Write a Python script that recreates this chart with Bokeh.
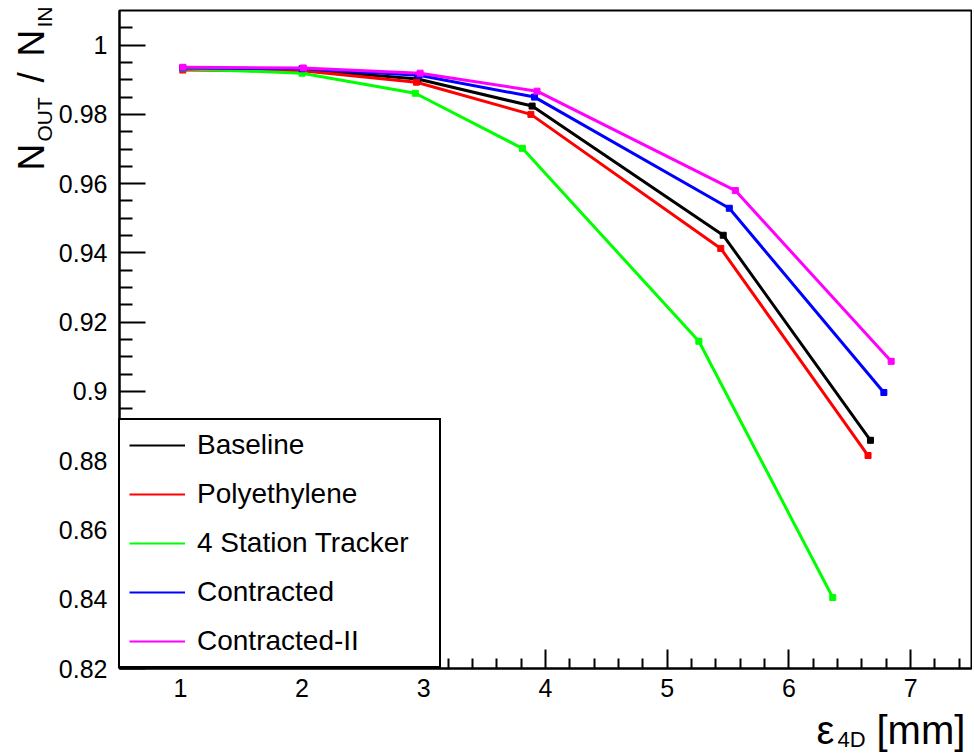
from bokeh.plotting import figure
from bokeh.models import (FixedTicker, CustomJSTickFormatter, Legend, LegendItem,
                          LinearAxis, Range1d, Label, BoxAnnotation)
from bokeh.embed import file_html
from bokeh.resources import INLINE
import math

# ---------------- data ----------------
series_names = ["Baseline", "Polyethylene", "4 Station Tracker", "Contracted", "Contracted-II"]
series_colors = ["#000000", "#ff0000", "#00ff00", "#0000ff", "#ff00ff"]

baseline_x = [1.02, 2.00, 2.95, 3.89, 5.46, 6.67]
baseline_y = [0.9932, 0.9930, 0.9902, 0.9824, 0.9451, 0.8859]
baseline_e = [0.0003, 0.0003, 0.0004, 0.0005, 0.0007, 0.0009]

poly_x = [1.02, 2.00, 2.94, 3.88, 5.44, 6.65]
poly_y = [0.9928, 0.9926, 0.9893, 0.9800, 0.9413, 0.8815]
poly_e = [0.0003, 0.0003, 0.0004, 0.0005, 0.0007, 0.0009]

station_x = [1.02, 2.00, 2.93, 3.81, 5.26, 6.36]
station_y = [0.9932, 0.9919, 0.9861, 0.9702, 0.9145, 0.8405]
station_e = [0.0003, 0.0003, 0.0004, 0.0005, 0.0008, 0.0010]

contr_x = [1.02, 2.00, 2.96, 3.91, 5.51, 6.78]
contr_y = [0.9934, 0.9932, 0.9913, 0.9850, 0.9529, 0.8997]
contr_e = [0.0003, 0.0003, 0.0004, 0.0005, 0.0007, 0.0009]

contr2_x = [1.02, 2.01, 2.97, 3.93, 5.56, 6.84]
contr2_y = [0.9936, 0.9934, 0.9919, 0.9867, 0.9580, 0.9087]
contr2_e = [0.0003, 0.0003, 0.0004, 0.0005, 0.0007, 0.0009]

x_axis_min, x_axis_max = 0.5, 7.5
y_axis_min, y_axis_max = 0.82, 1.01
x_major_ticks = [1, 2, 3, 4, 5, 6, 7]
x_minor_ticks = [0.6, 0.8, 1.2, 1.4, 1.6, 1.8, 2.2, 2.4, 2.6, 2.8, 3.2, 3.4, 3.6, 3.8,
                 4.2, 4.4, 4.6, 4.8, 5.2, 5.4, 5.6, 5.8, 6.2, 6.4, 6.6, 6.8, 7.2, 7.4]
y_major_ticks = [0.82, 0.84, 0.86, 0.88, 0.90, 0.92, 0.94, 0.96, 0.98, 1.0]
y_minor_ticks = [0.825, 0.83, 0.835, 0.845, 0.85, 0.855, 0.865, 0.87, 0.875,
                 0.885, 0.89, 0.895, 0.905, 0.91, 0.915, 0.925, 0.93, 0.935,
                 0.945, 0.95, 0.955, 0.965, 0.97, 0.975, 0.985, 0.99, 0.995, 1.005]

# ---------------- layout (canvas pixels of the ROOT-style frame) ----------------
W, H = 972, 754
FL, FR, FT, FB = 119, 971, 10, 668
sx = (FR - FL) / (x_axis_max - x_axis_min)
sy = (FB - FT) / (y_axis_max - y_axis_min)
xr = Range1d(x_axis_min - FL / sx, x_axis_max + (W - FR) / sx)
yr = Range1d(y_axis_min - (H - FB) / sy, y_axis_max + FT / sy)

p = figure(width=W, height=H, output_backend="svg", toolbar_location=None,
           x_range=xr, y_range=yr, x_axis_location=None, y_axis_location=None,
           min_border=0)
p.background_fill_color = "white"
p.border_fill_color = "white"
p.outline_line_color = None
p.xgrid.visible = False
p.ygrid.visible = False

fmt = CustomJSTickFormatter(code="return String(Math.round(tick*1000)/1000);")

xa = LinearAxis(fixed_location=y_axis_min, bounds=(x_axis_min, x_axis_max),
                ticker=FixedTicker(ticks=x_major_ticks, minor_ticks=x_minor_ticks),
                formatter=fmt)
xa.major_tick_in = 19
xa.major_tick_out = 0
xa.minor_tick_in = 10
xa.minor_tick_out = 0
xa.major_tick_line_width = 2
xa.minor_tick_line_width = 2
xa.axis_line_width = 2
xa.major_label_text_font = "Liberation Sans"
xa.major_label_text_font_size = "25px"
xa.major_label_text_color = "black"
xa.major_label_standoff = 10
p.add_layout(xa, "below")

ya = LinearAxis(fixed_location=x_axis_min, bounds=(y_axis_min, y_axis_max),
                ticker=FixedTicker(ticks=y_major_ticks, minor_ticks=y_minor_ticks),
                formatter=fmt)
ya.major_tick_in = 26
ya.major_tick_out = 0
ya.minor_tick_in = 13
ya.minor_tick_out = 0
ya.major_tick_line_width = 2
ya.minor_tick_line_width = 2
ya.axis_line_width = 2
ya.major_label_text_font = "Liberation Sans"
ya.major_label_text_font_size = "25px"
ya.major_label_text_color = "black"
ya.major_label_standoff = 12
p.add_layout(ya, "left")

# frame box
p.add_layout(BoxAnnotation(left=x_axis_min, right=x_axis_max, bottom=y_axis_min,
                           top=y_axis_max, fill_alpha=0, line_color="black",
                           line_width=2, line_alpha=1.0, level="underlay"))

# ---------------- data rendering ----------------
all_x = [baseline_x, poly_x, station_x, contr_x, contr2_x]
all_y = [baseline_y, poly_y, station_y, contr_y, contr2_y]
all_e = [baseline_e, poly_e, station_e, contr_e, contr2_e]

items = []
for name, col, xs, ys, es in zip(series_names, series_colors, all_x, all_y, all_e):
    p.line(xs, ys, line_color=col, line_width=3)
    p.segment(x0=xs, x1=xs, y0=[y - e for y, e in zip(ys, es)],
              y1=[y + e for y, e in zip(ys, es)], line_color=col, line_width=2)
    p.scatter(xs, ys, marker="square", size=6, fill_color=col, line_color=col)
    legend_line = p.line(xs, ys, line_color=col, line_width=2, visible=False)
    items.append(LegendItem(label=name, renderers=[legend_line]))

legend = Legend(items=items, location=(FL - 1, H - FB), padding=9, spacing=17,
                label_height=32, glyph_height=32, glyph_width=56,
                label_width=233, label_standoff=12, margin=0,
                label_text_font="Liberation Sans", label_text_font_size="28px",
                label_text_color="black", label_text_baseline="middle",
                border_line_color="black", border_line_width=2, border_line_alpha=1.0,
                background_fill_color="white", background_fill_alpha=1.0)
p.add_layout(legend, "center")

# ---------------- axis titles ----------------
def cx(px):
    return xr.start + px / sx

def cy(py):
    return yr.end - py / sy

def add_label(text, px, py, size, angle=0.0):
    p.add_layout(Label(x=cx(px), y=cy(py), text=text, angle=angle,
                       text_font="Liberation Sans", text_font_size=size,
                       text_color="black", text_align="left",
                       text_baseline="alphabetic"))

R = math.pi / 2
# y title: N_OUT / N_IN (rotated)
add_label("N", 31, 170, "37px", R)
add_label("OUT", 44, 141, "21px", R)
add_label("/", 31, 82, "37px", R)
add_label("N", 31, 56, "37px", R)
add_label("IN", 44, 27, "21px", R)
# x title: eps_4D [mm]
add_label("ε", 816, 729, "40px")
add_label("4D", 837, 739, "22px")
add_label("[mm]", 876, 729, "40px")

open("out.html", "w").write(file_html(p, INLINE))
